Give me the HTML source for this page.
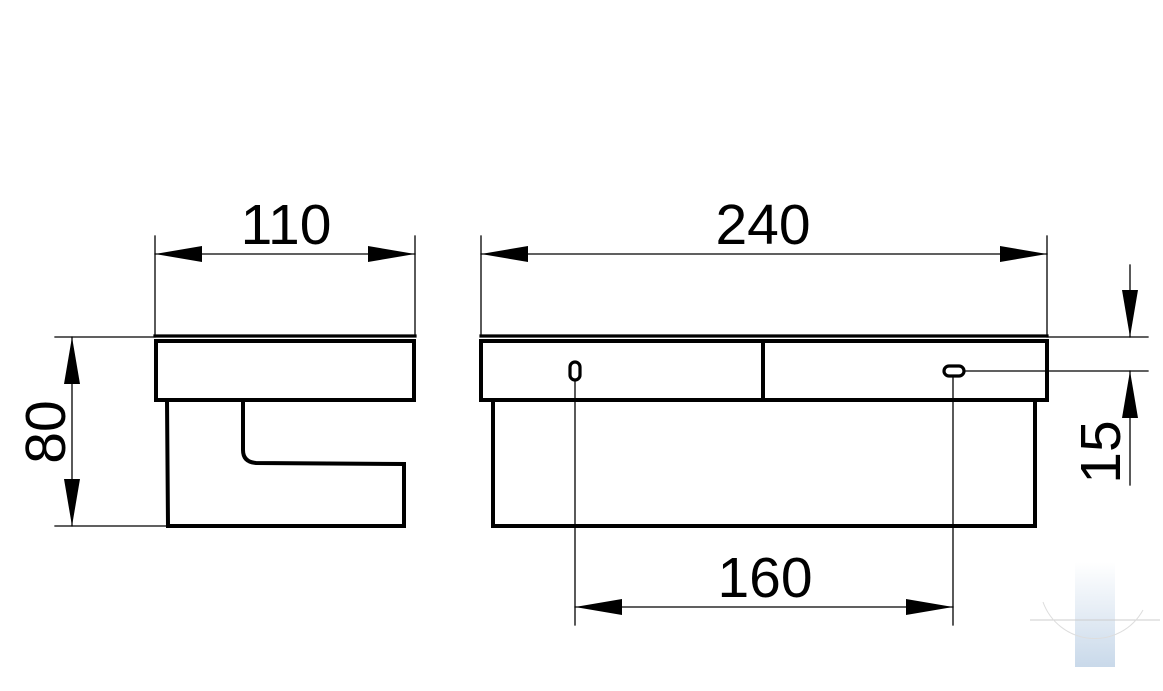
<!DOCTYPE html>
<html><head><meta charset="utf-8"><style>
html,body{margin:0;padding:0;background:#fff;}
svg{display:block;}
text{font-family:"Liberation Sans",Arial,sans-serif;font-size:57px;fill:#000;}
</style></head><body>
<svg width="1163" height="691" viewBox="0 0 1163 691" xmlns="http://www.w3.org/2000/svg">
<g stroke="#000" fill="none" stroke-linecap="square">
<line x1="155" y1="336" x2="415" y2="336" stroke-width="3.2"/>
<rect x="156" y="341" width="258" height="59" stroke-width="4"/>
<path d="M167 400 L168 526 L404 526 L404 464 L256 463 Q243 462 243 450 L243 401" stroke-width="4"/>
<g stroke-width="1.3">
<line x1="155" y1="236" x2="155" y2="336"/>
<line x1="415" y1="236" x2="415" y2="336"/>
<line x1="155" y1="254" x2="415" y2="254"/>
<line x1="55" y1="337" x2="155" y2="337"/>
<line x1="55" y1="526" x2="167" y2="526"/>
<line x1="72" y1="337" x2="72" y2="526"/>
</g>
<line x1="481" y1="336" x2="1047" y2="336" stroke-width="3.2"/>
<rect x="481" y="341" width="566" height="59" stroke-width="4"/>
<line x1="763" y1="341" x2="763" y2="400" stroke-width="4"/>
<path d="M493 400 L493 526 L1035 526 L1035 400" stroke-width="4"/>
<rect x="570" y="362" width="10" height="18" rx="5" stroke-width="3.2"/>
<rect x="944" y="366" width="20" height="10" rx="5" stroke-width="3.2"/>
<g stroke-width="1.3">
<line x1="481" y1="236" x2="481" y2="336"/>
<line x1="1047" y1="236" x2="1047" y2="336"/>
<line x1="481" y1="254" x2="1047" y2="254"/>
<line x1="1047" y1="337" x2="1148" y2="337"/>
<line x1="964" y1="371" x2="1148" y2="371"/>
<line x1="1130" y1="265" x2="1130" y2="337"/>
<line x1="1130" y1="371" x2="1130" y2="485"/>
<line x1="575" y1="380" x2="575" y2="625"/>
<line x1="953" y1="376" x2="953" y2="625"/>
<line x1="575" y1="607" x2="953" y2="607"/>
</g>
</g>
<g fill="#000">
<polygon points="155,254 202,246 202,262"/>
<polygon points="415,254 368,246 368,262"/>
<polygon points="481,254 528,246 528,262"/>
<polygon points="1047,254 1000,246 1000,262"/>
<polygon points="72,337 64,384 80,384"/>
<polygon points="72,526 64,479 80,479"/>
<polygon points="1130,337 1122,290 1138,290"/>
<polygon points="1130,371 1122,418 1138,418"/>
<polygon points="575,607 622,599 622,615"/>
<polygon points="953,607 906,599 906,615"/>
</g>
<text x="286" y="244" text-anchor="middle">110</text>
<text x="763" y="244" text-anchor="middle">240</text>
<text x="765" y="597" text-anchor="middle">160</text>
<text transform="translate(65,432) rotate(-90)" text-anchor="middle">80</text>
<text transform="translate(1120,452) rotate(-90)" text-anchor="middle">15</text>
<defs><linearGradient id="g" x1="0" y1="0" x2="0" y2="1"><stop offset="0" stop-color="#fff"/><stop offset="1" stop-color="#c9d9ea"/></linearGradient></defs>
<rect x="1075" y="562" width="40" height="105" fill="url(#g)"/>
<line x1="1030" y1="620" x2="1160" y2="620" stroke="#ccc" stroke-width="1"/>
<path d="M1043 602 A55 55 0 0 0 1143 610" stroke="#ddd" fill="none"/>
</svg>
</body></html>
